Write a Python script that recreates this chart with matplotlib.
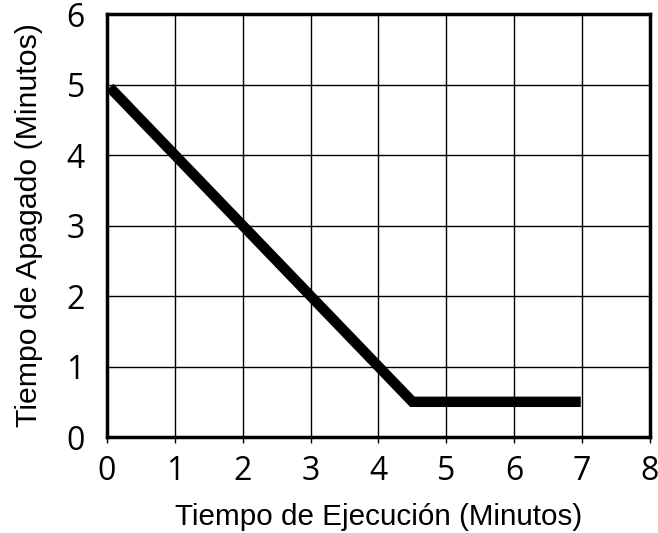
import matplotlib
matplotlib.use("Agg")
import matplotlib.pyplot as plt

# run time vs shutdown time (minutes)
run_time = [0.04, 4.5, 6.98]
off_time = [4.96, 0.5, 0.5]

x_ticks = [0, 1, 2, 3, 4, 5, 6, 7, 8]
y_ticks = [0, 1, 2, 3, 4, 5, 6]

plt.rcParams["font.family"] = ["Open Sans", "DejaVu Sans"]

fig = plt.figure(figsize=(6.58, 5.33), dpi=100)
ax = fig.add_axes([0.1626, 0.180, 0.8252, 0.7937])

ax.plot(run_time, off_time, color="black", lw=7.5, solid_capstyle="butt",
        solid_joinstyle="miter", zorder=3)

ax.set_xlim(0, 8)
ax.set_ylim(0, 6)
ax.set_xticks(x_ticks)
ax.set_yticks(y_ticks)
ax.grid(True, color="black", lw=1.0)
for s in ax.spines.values():
    s.set_linewidth(2.5)
ax.tick_params(axis="x", direction="out", length=4, width=1, labelsize=23, pad=9)
ax.tick_params(axis="y", length=0, labelsize=23, pad=16)

lab_font = ["Liberation Sans", "DejaVu Sans"]
ax.set_xlabel("Tiempo de Ejecución (Minutos)", fontsize=21.3, family=lab_font,
              labelpad=11)
ax.set_ylabel("Tiempo de Apagado (Minutos)", fontsize=21.8, family=lab_font,
              labelpad=17)

fig.savefig("out.png", dpi=100)
